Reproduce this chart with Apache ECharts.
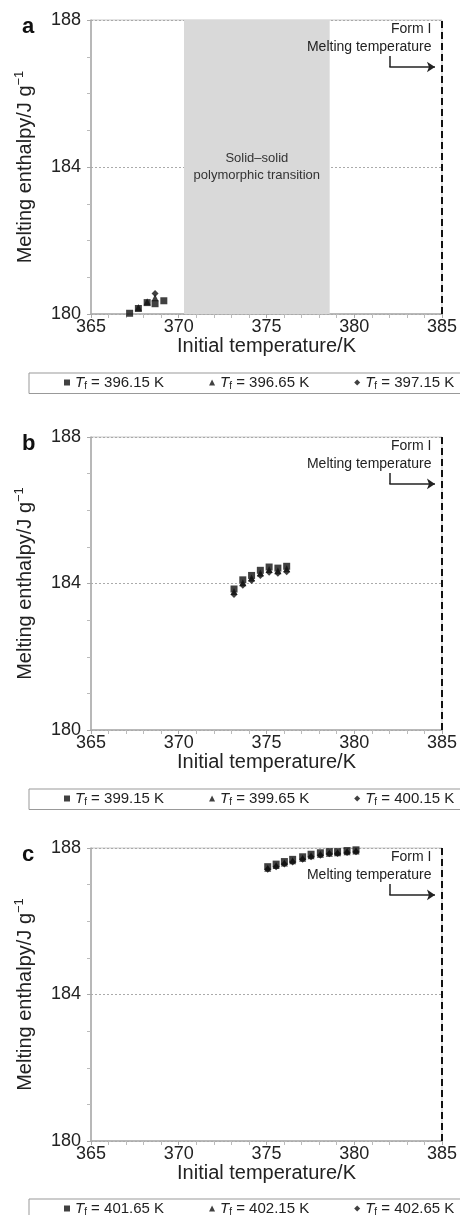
<!DOCTYPE html>
<html>
<head>
<meta charset="utf-8">
<script src="https://cdn.jsdelivr.net/npm/echarts@6/dist/echarts.min.js"></script>
<style>
  html, body { margin: 0; padding: 0; background: #fff; }
  #chart { width: 460px; height: 1215px; }
</style>
</head>
<body>
<div id="chart"></div>
<script>
// panel a
const aSquareX = [367.2, 367.7, 368.2, 368.65, 369.15];
const aSquareY = [180.02, 180.15, 180.31, 180.28, 180.36];
const aTriangleX = [367.7, 368.2, 368.65];
const aTriangleY = [180.18, 180.33, 180.44];
const aDiamondX = [368.65];
const aDiamondY = [180.56];
const aNames = ['396.15 K', '396.65 K', '397.15 K'];

// panel b
const bX = [373.15, 373.65, 374.15, 374.65, 375.15, 375.65, 376.15];
const bSquareY = [183.85, 184.1, 184.22, 184.36, 184.45, 184.42, 184.47];
const bTriangleY = [183.78, 184.02, 184.15, 184.29, 184.38, 184.35, 184.4];
const bDiamondY = [183.7, 183.95, 184.08, 184.22, 184.31, 184.28, 184.32];
const bNames = ['399.15 K', '399.65 K', '400.15 K'];

// panel c
const cX = [375.07, 375.55, 376.02, 376.49, 377.06, 377.54, 378.07, 378.58, 379.05, 379.59, 380.1];
const cSquareY = [187.49, 187.56, 187.63, 187.69, 187.76, 187.83, 187.87, 187.9, 187.9, 187.93, 187.95];
const cTriangleY = [187.45, 187.52, 187.59, 187.65, 187.72, 187.79, 187.83, 187.86, 187.87, 187.9, 187.92];
const cDiamondY = [187.42, 187.49, 187.56, 187.62, 187.69, 187.76, 187.8, 187.84, 187.85, 187.88, 187.9];
const cNames = ['401.65 K', '402.15 K', '402.65 K'];

const panelLetters = ['a', 'b', 'c'];
const transitionBand = [370.3, 378.6];
const meltingTemp = 385;
const arrowX = [382.0, 384.6];
const arrowY = [187.02, 186.72];
const formLabelPos = [384.4, 187.51];

const FONT = '"Liberation Sans", Arial, Helvetica, sans-serif';
const gridTops = [20, 437, 848];
const gridHeights = [294, 293, 293];
const legendTops = [373, 789, 1199];

const zip = (xs, ys) => xs.map((x, i) => [x, ys[i]]);

const panels = [
  {names: aNames, sets: [zip(aSquareX, aSquareY), zip(aTriangleX, aTriangleY), zip(aDiamondX, aDiamondY)], band: true},
  {names: bNames, sets: [zip(bX, bSquareY), zip(bX, bTriangleY), zip(bX, bDiamondY)], band: false},
  {names: cNames, sets: [zip(cX, cSquareY), zip(cX, cTriangleY), zip(cX, cDiamondY)], band: false}
];
const shapes = ['rect', 'triangle', 'diamond'];
const sizes = [7, 7, 7];

const chart = echarts.init(document.getElementById('chart'));

const grid = [], xAxis = [], yAxis = [], legend = [], series = [], graphic = [];

panels.forEach((p, k) => {
  grid.push({left: 91, right: 17, top: gridTops[k], height: gridHeights[k],
    show: true, borderColor: '#c8c8c8', borderWidth: 1, backgroundColor: 'transparent'});
  xAxis.push({
    gridIndex: k, type: 'value', min: 365, max: 385, interval: 5,
    name: 'Initial temperature/K', nameLocation: 'middle', nameGap: 22,
    nameTextStyle: {fontFamily: FONT, fontSize: 20, color: '#222'},
    axisLine: {lineStyle: {color: '#aaa', width: 1.5}},
    axisTick: {show: true, length: 4, lineStyle: {color: '#aaa'}},
    minorTick: {show: true, splitNumber: 5, length: 4, lineStyle: {color: '#bbb'}},
    axisLabel: {margin: 4, fontFamily: FONT, fontSize: 18, color: '#222'},
    splitLine: {show: false}
  });
  yAxis.push({
    gridIndex: k, type: 'value', min: 180, max: 188, interval: 4,
    name: '{m|Melting enthalpy/J g}{s|\u22121}', nameLocation: 'middle', nameGap: 54,
    nameTextStyle: {fontFamily: FONT, color: '#222', rich: {
      m: {fontFamily: FONT, fontSize: 20, color: '#222', lineHeight: 24},
      s: {fontFamily: FONT, fontSize: 13, color: '#222', verticalAlign: 'top', lineHeight: 14}
    }},
    axisLine: {lineStyle: {color: '#aaa', width: 1.5}},
    axisTick: {show: true, length: 4, lineStyle: {color: '#aaa'}},
    minorTick: {show: true, splitNumber: 4, length: 4, lineStyle: {color: '#bbb'}},
    axisLabel: {margin: 10, fontFamily: FONT, fontSize: 18, color: '#222'},
    splitLine: {show: true, lineStyle: {color: '#aaa', type: [2, 2], width: 1}}
  });
  legend.push({
    data: p.names.map((n, i) => ({name: n, icon: shapes[i]})),
    left: 29, top: legendTops[k], width: 520, orient: 'horizontal',
    itemWidth: 6, itemHeight: 6, itemGap: 45,
    padding: [2, 12, 2, 35],
    borderColor: '#999', borderWidth: 1,
    formatter: n => '{t|T}{f|f}{v| = ' + n + '}',
    textStyle: {fontFamily: FONT, color: '#222', rich: {
      t: {fontFamily: FONT, fontSize: 15, fontStyle: 'italic', color: '#222', lineHeight: 18},
      f: {fontFamily: FONT, fontSize: 10, color: '#222', verticalAlign: 'bottom', lineHeight: 9},
      v: {fontFamily: FONT, fontSize: 15, color: '#222', lineHeight: 18}
    }}
  });
  p.sets.forEach((d, i) => {
    const s = {
      type: 'scatter', name: p.names[i], xAxisIndex: k, yAxisIndex: k,
      symbol: shapes[i], symbolSize: sizes[i], data: d, silent: true,
      itemStyle: {color: '#111'}, z: 5
    };
    if (i === 0) {
      s.markLine = {
        silent: true, symbol: ['none', 'none'], animation: false,
        label: {show: false},
        lineStyle: {color: '#111', type: [7, 4], width: 2},
        data: [{xAxis: meltingTemp}]
      };
      if (p.band) {
        s.markArea = {
          silent: true,
          itemStyle: {color: '#d9d9d9', opacity: 1},
          label: {show: true, position: 'inside', fontFamily: FONT, fontSize: 13, color: '#333', lineHeight: 17,
            formatter: 'Solid\u2013solid\npolymorphic transition'},
          data: [[{xAxis: transitionBand[0]}, {xAxis: transitionBand[1]}]]
        };
      }
    }
    if (i === 1) {
      s.markLine = {
        silent: true, symbol: ['none', 'arrow'], symbolSize: 8, animation: false,
        label: {show: false},
        lineStyle: {color: '#222', type: 'solid', width: 1.5},
        data: [
          [{coord: [arrowX[0], arrowY[0]], symbol: 'none'}, {coord: [arrowX[0], arrowY[1]], symbol: 'none'}],
          [{coord: [arrowX[0], arrowY[1]], symbol: 'none'}, {coord: [arrowX[1], arrowY[1]]}]
        ]
      };
    }
    if (i === 2) {
      s.markPoint = {
        silent: true, symbol: 'circle', symbolSize: 0, animation: false,
        itemStyle: {color: 'transparent'},
        label: {show: true, position: 'left', distance: 0, fontFamily: FONT, fontSize: 14, color: '#222',
          lineHeight: 18, formatter: 'Form I\nMelting temperature'},
        data: [{coord: formLabelPos}]
      };
    }
    series.push(s);
  });
  graphic.push({
    type: 'text', left: 22, top: gridTops[k] - 4,
    style: {text: panelLetters[k], font: 'bold 22px ' + FONT, fill: '#111'}
  });
});

chart.setOption({
  animation: false,
  backgroundColor: '#fff',
  grid, xAxis, yAxis, legend, series, graphic
});
</script>
</body>
</html>
